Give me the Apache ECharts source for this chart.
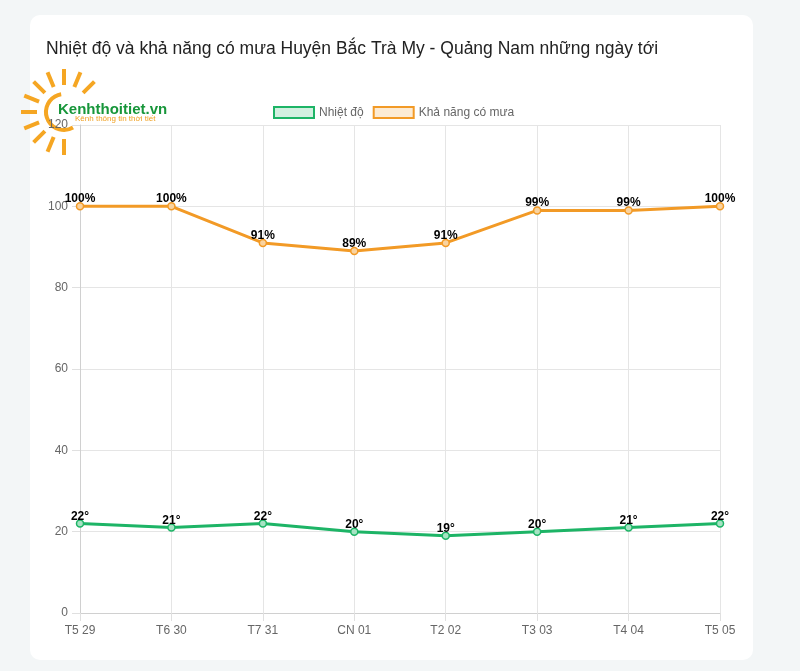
<!DOCTYPE html>
<html>
<head>
<meta charset="utf-8">
<script src="https://cdn.jsdelivr.net/npm/echarts@6/dist/echarts.min.js"></script>
<style>
    html, body { margin: 0; padding: 0; background: #f3f6f7; }
    #card { position: absolute; left: 30px; top: 15px; width: 723px; height: 645px; background: #fff; border-radius: 10px; }
    #main { position: absolute; left: 0; top: 0; width: 800px; height: 671px; }
</style>
</head>
<body>
<div id="card"></div>
<div id="main"></div>
<script>
var days = ['T5 29', 'T6 30', 'T7 31', 'CN 01', 'T2 02', 'T3 03', 'T4 04', 'T5 05'];
var nhietDo = [22, 21, 22, 20, 19, 20, 21, 22];      // độ C
var khaNangMua = [100, 100, 91, 89, 91, 99, 99, 100]; // %
var yTicks = [0, 20, 40, 60, 80, 100, 120];

var green = '#1db466';
var orange = '#f29a26';
var font = 'Liberation Sans, Arial, sans-serif';

// logo kenhthoitiet (mặt trời + chữ)
function logo() {
    var cx = 64, cy = 112;
    var items = [];
    for (var deg = 45; deg <= 290; deg += 22.5) {
        var a = deg * Math.PI / 180;
        items.push({
            type: 'line',
            shape: {
                x1: cx + Math.cos(a) * 27, y1: cy - Math.sin(a) * 27,
                x2: cx + Math.cos(a) * 43, y2: cy - Math.sin(a) * 43
            },
            style: { stroke: '#f5a623', lineWidth: 4 }
        });
    }
    items.push({
        type: 'arc',
        shape: { cx: cx, cy: cy, r: 18, startAngle: Math.PI / 3, endAngle: Math.PI * 1.45, clockwise: true },
        style: { stroke: '#f5a623', lineWidth: 4, fill: null }
    });
    items.push({
        type: 'text', x: 58, y: 110,
        style: { text: 'Kenhthoitiet.vn', fill: '#17963a', font: 'bold 15px ' + font, textVerticalAlign: 'middle' }
    });
    items.push({
        type: 'text', x: 75, y: 119,
        style: { text: 'Kênh thông tin thời tiết', fill: '#f0a020', font: '8px ' + font, textVerticalAlign: 'middle' }
    });
    return { type: 'group', z: 100, children: items };
}

var myChart = echarts.init(document.getElementById('main'));
var option = {
    backgroundColor: 'transparent',
    animation: false,
    title: {
        text: 'Nhiệt độ và khả năng có mưa Huyện Bắc Trà My - Quảng Nam những ngày tới',
        left: 41,
        top: 35,
        textStyle: { fontSize: 17.5, fontWeight: 'normal', color: '#222', fontFamily: font }
    },
    legend: {
        top: 101,
        left: 268,
        itemWidth: 40,
        itemHeight: 11,
        itemGap: 9,
        textStyle: { color: '#666', fontSize: 12, fontFamily: font },
        data: [
            { name: 'Nhiệt độ', icon: 'rect', itemStyle: { color: 'rgba(29,180,102,0.2)', borderColor: green, borderWidth: 2 } },
            { name: 'Khả năng có mưa', icon: 'rect', itemStyle: { color: 'rgba(242,154,38,0.2)', borderColor: orange, borderWidth: 2 } }
        ]
    },
    grid: { left: 80, right: 80, top: 125, bottom: 58 },
    xAxis: {
        type: 'category',
        boundaryGap: false,
        data: days,
        axisLine: { lineStyle: { color: '#d0d0d0' } },
        axisTick: { show: true, length: 8, lineStyle: { color: '#e0e0e0' } },
        axisLabel: { color: '#666', fontSize: 12, fontFamily: font, margin: 12 },
        splitLine: { show: true, lineStyle: { color: '#e5e5e5' } }
    },
    yAxis: {
        type: 'value',
        min: yTicks[0],
        max: yTicks[yTicks.length - 1],
        interval: 20,
        axisLine: { show: true, lineStyle: { color: '#d0d0d0' } },
        axisTick: { show: true, length: 8, lineStyle: { color: '#e0e0e0' } },
        axisLabel: { color: '#666', fontSize: 12, fontFamily: font, margin: 12 },
        splitLine: { lineStyle: { color: '#e5e5e5' } }
    },
    series: [
        {
            name: 'Nhiệt độ',
            type: 'line',
            data: nhietDo,
            symbol: 'circle',
            symbolSize: 7,
            lineStyle: { color: green, width: 3 },
            itemStyle: { color: '#a6e3c3', borderColor: green, borderWidth: 1.5 },
            label: {
                show: true, position: 'top', distance: -3,
                formatter: '{c}°', color: '#000', fontWeight: 'bold', fontSize: 12, fontFamily: font
            }
        },
        {
            name: 'Khả năng có mưa',
            type: 'line',
            data: khaNangMua,
            symbol: 'circle',
            symbolSize: 7,
            lineStyle: { color: orange, width: 3 },
            itemStyle: { color: '#f9d3a0', borderColor: orange, borderWidth: 1.5 },
            label: {
                show: true, position: 'top', distance: -3,
                formatter: '{c}%', color: '#000', fontWeight: 'bold', fontSize: 12, fontFamily: font
            }
        }
    ],
    graphic: [logo()]
};
myChart.setOption(option);
</script>
</body>
</html>
